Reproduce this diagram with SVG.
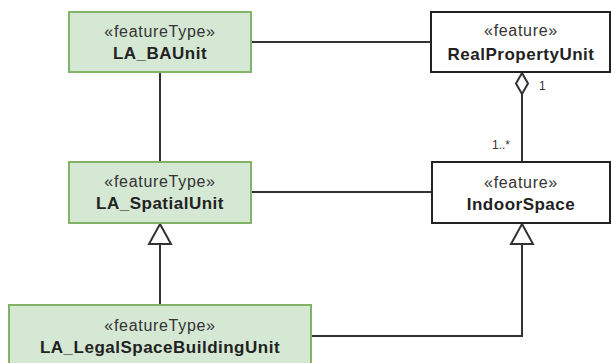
<svg xmlns="http://www.w3.org/2000/svg" width="611" height="363" viewBox="0 0 611 363">
  <style>
    .ft { fill: #d5e8d4; stroke: #82b366; stroke-width: 2; }
    .f { fill: #ffffff; stroke: #222222; stroke-width: 2; }
    .st { font-family: "Liberation Sans", Arial, sans-serif; font-size: 16px; letter-spacing: 0.7px; fill: #333333; text-anchor: middle; }
    .nm { font-family: "Liberation Sans", Arial, sans-serif; font-size: 17px; letter-spacing: 0.5px; font-weight: bold; fill: #222222; text-anchor: middle; }
    .lbl { font-family: "Liberation Sans", Arial, sans-serif; font-size: 12px; fill: #333333; }
    .ln { fill: none; stroke: #333333; stroke-width: 2; }
    .head { fill: #ffffff; stroke: #333333; stroke-width: 2; }
  </style>

  <!-- connectors -->
  <g id="connectors">
    <line class="ln" x1="251" y1="42" x2="431" y2="42"/>
    <line class="ln" x1="160" y1="72" x2="160" y2="162"/>
    <line class="ln" x1="251" y1="192" x2="432" y2="192"/>
    <line class="ln" x1="522" y1="94" x2="522" y2="162"/>
    <polygon class="head" points="522,73 528,83.5 522,94 516,83.5"/>
    <text class="lbl" x="539" y="90">1</text>
    <text class="lbl" x="492" y="149">1..*</text>
    <line class="ln" x1="160" y1="244" x2="160" y2="305"/>
    <polygon class="head" points="160,224 171,244 149,244"/>
    <polyline class="ln" points="311,336 522,336 522,244"/>
    <polygon class="head" points="522,224 533,244 511,244"/>
  </g>

  <g id="LA_BAUnit">
    <rect class="ft" x="69" y="12" width="182" height="60"/>
    <text class="st" x="160" y="37">«featureType»</text>
    <text class="nm" x="160" y="59">LA_BAUnit</text>
  </g>

  <g id="RealPropertyUnit">
    <rect class="f" x="431" y="12" width="179" height="60"/>
    <text class="st" x="521" y="36">«feature»</text>
    <text class="nm" x="521" y="60">RealPropertyUnit</text>
  </g>

  <g id="LA_SpatialUnit">
    <rect class="ft" x="69" y="162" width="182" height="61"/>
    <text class="st" x="160" y="187">«featureType»</text>
    <text class="nm" x="160" y="209">LA_SpatialUnit</text>
  </g>

  <g id="IndoorSpace">
    <rect class="f" x="432" y="162" width="178" height="61"/>
    <text class="st" x="521" y="188">«feature»</text>
    <text class="nm" x="521" y="210">IndoorSpace</text>
  </g>

  <g id="LA_LegalSpaceBuildingUnit">
    <rect class="ft" x="9" y="305" width="302" height="60"/>
    <text class="st" x="160" y="331">«featureType»</text>
    <text class="nm" x="160" y="353">LA_LegalSpaceBuildingUnit</text>
  </g>
</svg>
